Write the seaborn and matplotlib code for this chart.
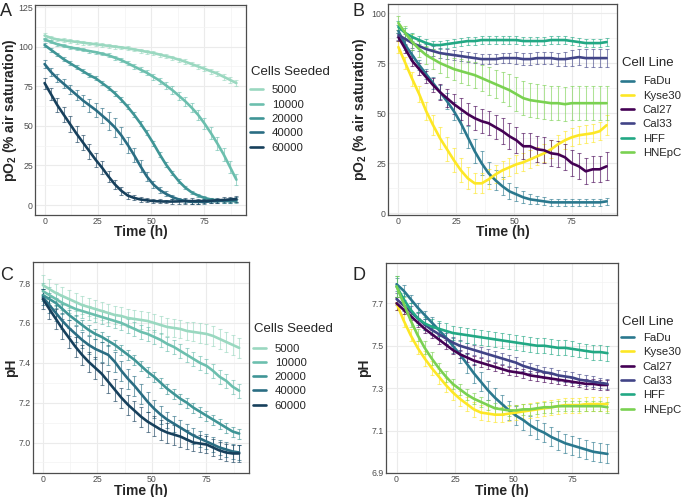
import matplotlib
matplotlib.use('Agg')
import pandas as pd
from matplotlib import pyplot as plt
from matplotlib.lines import Line2D
from matplotlib.ticker import FixedLocator
import seaborn as sns

hours = [0, 3, 6, 9, 12, 15, 18, 21, 24, 27, 30, 33, 36, 39, 42, 45,
         48, 51, 54, 57, 60, 63, 66, 69, 72, 75, 78, 81, 84, 87, 90]

seeded = ['5000', '10000', '20000', '40000', '60000']
seeded_colors = ['#9ad8c0', '#6cbfae', '#3f9596', '#2a6d83', '#17405c']

cell_lines = ['FaDu', 'Kyse30', 'Cal27', 'Cal33', 'HFF', 'HNEpC']
line_colors = ['#2A788E', '#FDE725', '#440154', '#414487', '#22A884', '#7AD151']

# panel A - pO2 by seeding density
po2_seeded_mean = {
    '5000': [107, 105.5, 104.5, 104, 103.5, 103, 102.5, 102, 101.5, 101, 100.5, 100, 99.5, 99, 98.2, 97.5,
             96.7, 96, 95, 94, 93, 91.8, 90.5, 89, 87.5, 86, 84.5, 83, 81, 79, 77],
    '10000': [104.5, 103, 101.5, 100.5, 99.5, 98.8, 98, 97.2, 96.5, 95.5, 94.5, 93, 91.5, 89.5, 87.5, 85.5,
              83.5, 81, 78.5, 75.5, 72.5, 69, 65.5, 61.5, 57, 51.5, 45.5, 39, 32, 24, 16],
    '20000': [101, 98, 95, 92, 89.5, 87, 84.5, 82, 80, 77, 74, 70.5, 66.5, 62, 57, 51.5,
              45.5, 39, 32, 25.5, 20, 15, 11, 8, 6, 4.5, 3.5, 3, 2.5, 2.5, 2.5],
    '40000': [89, 84, 80, 76.5, 73, 69.5, 66, 63, 60, 56.5, 53, 49, 44, 38, 31.5, 24.5,
              18, 13, 9.5, 7, 5, 3.5, 2.5, 2, 2, 2, 2.3, 2.5, 2.8, 3, 3.2],
    '60000': [77, 70, 63, 57, 51, 45, 39.5, 34, 28.5, 23.5, 18, 13, 9, 6, 4.5, 3.5,
              3, 2.5, 2.3, 2.2, 2.2, 2.3, 2.5, 2.5, 2.5, 2.5, 2.7, 3, 3.2, 3.5, 3.8],
}
po2_seeded_sd = {
    '5000': [1.5, 1.2, 1.2, 1.2, 1.2, 1.2, 1.2, 1.2, 1.2, 1.2, 1.2, 1.2, 1.2, 1.2, 1.2, 1.2,
             1.2, 1.2, 1.3, 1.3, 1.3, 1.3, 1.4, 1.4, 1.5, 1.5, 1.6, 1.7, 1.8, 1.9, 2.0],
    '10000': [1.0, 1.0, 1.0, 1.0, 1.0, 1.0, 1.0, 1.0, 1.0, 1.0, 1.2, 1.2, 1.2, 1.3, 1.4, 1.5,
              1.6, 1.8, 2.0, 2.2, 2.4, 2.6, 2.8, 3.0, 3.3, 3.5, 3.8, 4.0, 4.0, 3.8, 3.5],
    '20000': [1.5, 1.2, 1.2, 1.2, 1.2, 1.2, 1.2, 1.2, 1.2, 1.3, 1.3, 1.4, 1.5, 1.5, 1.6, 1.6,
              1.6, 1.6, 1.5, 1.4, 1.3, 1.2, 1.1, 1.0, 1.0, 1.0, 1.0, 1.0, 1.0, 1.0, 1.0],
    '40000': [2.5, 2.5, 2.5, 2.8, 3.0, 3.2, 3.5, 4.0, 4.5, 5.0, 5.5, 5.8, 5.5, 5.0, 4.5, 3.8,
              3.0, 2.4, 2.0, 1.6, 1.4, 1.2, 1.2, 1.2, 1.2, 1.2, 1.2, 1.2, 1.3, 1.5, 1.6],
    '60000': [3.5, 4.0, 4.5, 4.8, 5.0, 5.0, 5.0, 4.8, 4.5, 4.0, 3.5, 3.0, 2.5, 2.0, 1.6, 1.4,
              1.2, 1.2, 1.2, 1.2, 1.4, 1.6, 1.8, 1.8, 1.6, 1.5, 1.5, 1.5, 1.6, 1.8, 2.0],
}

# panel B - pO2 by cell line
po2_line_mean = {
    'FaDu': [91, 84, 79, 74, 69.5, 65, 60.5, 56, 51, 45, 38, 31, 25, 20, 16.5, 13.5,
             11, 9.5, 8, 7, 6.5, 6, 5.5, 5.5, 5.5, 5.5, 5.5, 5.5, 5.5, 5.5, 6],
    'Kyse30': [83, 75, 67, 59.5, 51, 44, 37.5, 32, 26.5, 21.5, 17.5, 15, 15, 17, 19.5, 21.5,
               23, 24.5, 25.5, 27, 28.5, 30, 32, 34.5, 36.5, 38, 39, 39.5, 40, 41, 44],
    'Cal27': [88, 82, 76, 72, 68, 64, 60.5, 57.5, 54.5, 52, 49.5, 47.5, 46, 45, 43, 41,
              38.5, 36.5, 33.5, 33.5, 32, 31.5, 30, 29.5, 28, 25, 23.5, 21, 22, 22, 23.5],
    'Cal33': [89, 87, 85, 83.5, 82, 81, 80, 79.5, 79, 78.5, 78, 77.5, 77, 77, 77, 77.5,
              77.5, 77.5, 77, 77, 77.5, 77.5, 77.5, 77, 77, 77.5, 78, 77.5, 77.5, 77.5, 77.5],
    'HFF': [93, 90, 88, 86.5, 85, 84, 84, 84.5, 85, 85.5, 86, 86, 86.5, 86.5, 86.5, 86.5,
            86.5, 86.5, 86, 86, 86, 86, 86.5, 86.5, 86.5, 86, 85.5, 85, 85, 85, 85.5],
    'HNEpC': [95, 90, 85.5, 82, 79, 77, 75, 73.5, 72, 71, 70, 69, 67.5, 66, 64.5, 63,
              61.5, 59.5, 57.5, 56.5, 56, 55.5, 55, 55, 54.5, 55, 55, 55, 55, 55, 55],
}
po2_line_sd = {
    'FaDu': [3, 2.5, 2.5, 2.5, 2.5, 3, 3.5, 4, 4.5, 5, 5.5, 6, 6, 5.5, 5, 4.5,
             4, 3.5, 3, 2.5, 2, 2, 1.8, 1.8, 1.8, 1.8, 1.8, 1.8, 1.8, 1.8, 1.8],
    'Kyse30': [3, 3, 3.5, 4, 4.5, 5, 5.5, 6, 6, 6, 5.5, 5, 5, 5, 4.5, 4.5,
               4.5, 4.5, 4.5, 4.5, 4.5, 4.5, 4.5, 4.5, 4.5, 4.5, 4.5, 4.5, 4.5, 4.5, 5],
    'Cal27': [2, 2, 2.5, 3, 3, 3.5, 4, 4.5, 5, 5.5, 5.5, 6, 6, 6, 6, 6.5,
              6.5, 6.5, 6.5, 6.5, 6.5, 6.5, 6.5, 6.5, 6.5, 6.5, 6.5, 6.5, 6.5, 6.5, 7],
    'Cal33': [2.5, 2.5, 2.5, 2.5, 2.5, 2.5, 2.5, 2.5, 2.5, 2.5, 2.5, 2.5, 2.5, 2.5, 2.5, 2.5,
              2.5, 2.8, 3, 3, 3, 3, 3, 3.2, 3.5, 3.8, 4, 4.5, 4.5, 4.5, 4.5],
    'HFF': [3, 2.5, 2, 2, 2, 2, 2, 2, 2, 2, 2, 2, 2, 2, 2, 2,
            2, 2, 2, 2, 2, 2, 2, 2, 2, 2, 2, 2, 2, 2, 2],
    'HNEpC': [3.5, 3.5, 4, 4, 4.5, 5, 5, 5.5, 5.5, 6, 6, 6.5, 6.5, 7, 7, 7.5,
              8, 8.5, 8.5, 8.5, 8.5, 8.5, 8.5, 8.5, 8.5, 8.5, 8.5, 8.5, 8.5, 8.5, 8.5],
}

# panel C - pH by seeding density
ph_seeded_mean = {
    '5000': [7.79, 7.77, 7.75, 7.735, 7.72, 7.705, 7.69, 7.68, 7.67, 7.66, 7.65, 7.64, 7.635, 7.625, 7.62, 7.615,
             7.61, 7.6, 7.59, 7.58, 7.575, 7.57, 7.56, 7.555, 7.55, 7.545, 7.535, 7.52, 7.505, 7.49, 7.475],
    '10000': [7.76, 7.74, 7.72, 7.7, 7.685, 7.67, 7.66, 7.65, 7.64, 7.63, 7.62, 7.61, 7.6, 7.585, 7.57, 7.555,
              7.545, 7.53, 7.515, 7.495, 7.48, 7.46, 7.44, 7.42, 7.4, 7.385, 7.36, 7.33, 7.31, 7.28, 7.26],
    '20000': [7.74, 7.72, 7.7, 7.67, 7.64, 7.615, 7.59, 7.565, 7.545, 7.53, 7.51, 7.49, 7.465, 7.44, 7.415, 7.385,
              7.355, 7.33, 7.3, 7.27, 7.245, 7.22, 7.2, 7.175, 7.155, 7.135, 7.115, 7.095, 7.075, 7.055, 7.045],
    '40000': [7.73, 7.69, 7.65, 7.61, 7.575, 7.545, 7.515, 7.49, 7.47, 7.455, 7.44, 7.405, 7.36, 7.32, 7.285, 7.245,
              7.205, 7.17, 7.14, 7.115, 7.095, 7.075, 7.055, 7.035, 7.02, 7.005, 6.99, 6.975, 6.965, 6.955, 6.95],
    '60000': [7.72, 7.67, 7.62, 7.57, 7.525, 7.48, 7.44, 7.405, 7.375, 7.345, 7.305, 7.265, 7.225, 7.19, 7.16, 7.13,
              7.105, 7.085, 7.065, 7.05, 7.04, 7.03, 7.015, 7.0, 6.995, 6.99, 6.975, 6.96, 6.95, 6.945, 6.945],
}
ph_seeded_sd = {
    '5000': [0.05, 0.05, 0.045, 0.045, 0.045, 0.045, 0.045, 0.045, 0.045, 0.045, 0.045, 0.045, 0.045, 0.045, 0.045, 0.045,
             0.045, 0.045, 0.045, 0.045, 0.045, 0.045, 0.045, 0.048, 0.05, 0.05, 0.05, 0.05, 0.05, 0.05, 0.05],
    '10000': [0.04, 0.04, 0.035, 0.035, 0.035, 0.035, 0.035, 0.035, 0.035, 0.035, 0.035, 0.035, 0.035, 0.035, 0.035, 0.035,
              0.035, 0.035, 0.035, 0.035, 0.035, 0.035, 0.035, 0.035, 0.035, 0.035, 0.035, 0.035, 0.035, 0.035, 0.035],
    '20000': [0.03, 0.03, 0.025, 0.025, 0.025, 0.025, 0.025, 0.025, 0.025, 0.025, 0.025, 0.025, 0.025, 0.025, 0.025, 0.025,
              0.025, 0.025, 0.025, 0.025, 0.025, 0.025, 0.025, 0.025, 0.025, 0.025, 0.025, 0.025, 0.025, 0.025, 0.025],
    '40000': [0.04, 0.04, 0.04, 0.04, 0.04, 0.04, 0.04, 0.045, 0.05, 0.05, 0.05, 0.05, 0.05, 0.05, 0.05, 0.05,
              0.05, 0.045, 0.045, 0.04, 0.04, 0.04, 0.04, 0.04, 0.04, 0.04, 0.04, 0.04, 0.04, 0.04, 0.04],
    '60000': [0.05, 0.05, 0.05, 0.05, 0.05, 0.05, 0.05, 0.05, 0.055, 0.055, 0.055, 0.055, 0.05, 0.05, 0.05, 0.05,
              0.05, 0.05, 0.05, 0.05, 0.05, 0.05, 0.05, 0.045, 0.045, 0.045, 0.045, 0.045, 0.045, 0.045, 0.045],
}

# panel D - pH by cell line
ph_line_mean = {
    'FaDu': [7.79, 7.76, 7.72, 7.68, 7.645, 7.61, 7.575, 7.54, 7.5, 7.46, 7.415, 7.37, 7.33, 7.29, 7.255, 7.225,
             7.195, 7.17, 7.15, 7.125, 7.105, 7.09, 7.07, 7.055, 7.04, 7.03, 7.02, 7.01, 7.0, 6.995, 6.99],
    'Kyse30': [7.7, 7.62, 7.55, 7.49, 7.44, 7.395, 7.355, 7.315, 7.28, 7.25, 7.225, 7.2, 7.185, 7.18, 7.175, 7.175,
               7.18, 7.185, 7.19, 7.195, 7.2, 7.205, 7.21, 7.215, 7.22, 7.22, 7.22, 7.225, 7.225, 7.225, 7.225],
    'Cal27': [7.7, 7.67, 7.64, 7.61, 7.58, 7.555, 7.53, 7.505, 7.48, 7.46, 7.445, 7.43, 7.42, 7.41, 7.4, 7.39,
              7.38, 7.375, 7.37, 7.36, 7.355, 7.35, 7.345, 7.34, 7.335, 7.33, 7.325, 7.32, 7.32, 7.315, 7.315],
    'Cal33': [7.72, 7.69, 7.66, 7.63, 7.6, 7.575, 7.555, 7.535, 7.515, 7.5, 7.49, 7.48, 7.47, 7.46, 7.45, 7.44,
              7.43, 7.42, 7.405, 7.395, 7.385, 7.375, 7.37, 7.36, 7.355, 7.35, 7.34, 7.335, 7.33, 7.325, 7.32],
    'HFF': [7.78, 7.72, 7.67, 7.63, 7.605, 7.59, 7.58, 7.57, 7.56, 7.555, 7.55, 7.545, 7.54, 7.535, 7.53, 7.525,
            7.52, 7.515, 7.51, 7.505, 7.5, 7.5, 7.495, 7.49, 7.49, 7.485, 7.48, 7.475, 7.47, 7.47, 7.465],
    'HNEpC': [7.78, 7.7, 7.62, 7.55, 7.49, 7.44, 7.395, 7.355, 7.32, 7.295, 7.27, 7.25, 7.235, 7.22, 7.205, 7.2,
              7.195, 7.195, 7.2, 7.2, 7.205, 7.21, 7.21, 7.215, 7.215, 7.215, 7.215, 7.215, 7.215, 7.215, 7.21],
}
ph_line_sd = {
    'FaDu': [0.03, 0.025, 0.02, 0.02, 0.02, 0.025, 0.03, 0.03, 0.035, 0.04, 0.045, 0.045, 0.045, 0.045, 0.045, 0.045,
             0.045, 0.045, 0.045, 0.045, 0.045, 0.045, 0.045, 0.045, 0.045, 0.045, 0.045, 0.045, 0.045, 0.045, 0.045],
    'Kyse30': [0.03, 0.03, 0.03, 0.03, 0.035, 0.035, 0.035, 0.035, 0.035, 0.035, 0.035, 0.035, 0.035, 0.035, 0.035, 0.035,
               0.035, 0.035, 0.035, 0.035, 0.035, 0.035, 0.035, 0.035, 0.035, 0.035, 0.035, 0.035, 0.035, 0.035, 0.035],
    'Cal27': [0.03, 0.02, 0.02, 0.02, 0.02, 0.02, 0.02, 0.02, 0.02, 0.02, 0.02, 0.02, 0.02, 0.02, 0.02, 0.02,
              0.02, 0.02, 0.02, 0.02, 0.02, 0.02, 0.02, 0.02, 0.02, 0.02, 0.02, 0.025, 0.025, 0.025, 0.025],
    'Cal33': [0.03, 0.025, 0.025, 0.025, 0.025, 0.025, 0.025, 0.025, 0.025, 0.025, 0.025, 0.025, 0.025, 0.025, 0.025, 0.025,
              0.025, 0.025, 0.025, 0.025, 0.025, 0.025, 0.025, 0.025, 0.025, 0.025, 0.025, 0.025, 0.025, 0.025, 0.025],
    'HFF': [0.05, 0.03, 0.03, 0.03, 0.03, 0.035, 0.035, 0.035, 0.035, 0.035, 0.035, 0.035, 0.035, 0.035, 0.035, 0.035,
            0.035, 0.035, 0.035, 0.035, 0.035, 0.035, 0.035, 0.035, 0.035, 0.035, 0.035, 0.035, 0.035, 0.035, 0.035],
    'HNEpC': [0.05, 0.03, 0.03, 0.03, 0.03, 0.03, 0.025, 0.025, 0.025, 0.025, 0.025, 0.025, 0.025, 0.025, 0.025, 0.025,
              0.025, 0.025, 0.025, 0.025, 0.025, 0.025, 0.025, 0.025, 0.025, 0.025, 0.025, 0.025, 0.025, 0.025, 0.025],
}


def to_long(means, sds):
    rows = []
    for grp, vals in means.items():
        for t, v, s in zip(hours, vals, sds[grp]):
            rows.append({'time': t, 'value': v, 'sd': s, 'group': grp})
    return pd.DataFrame(rows)


sns.set_theme(style='white')
plt.rcParams['font.family'] = ['Liberation Sans', 'DejaVu Sans']
plt.rcParams['mathtext.fontset'] = 'custom'
plt.rcParams['mathtext.rm'] = 'Liberation Sans'
plt.rcParams['mathtext.bf'] = 'Liberation Sans:bold'

W, H = 685, 497
fig = plt.figure(figsize=(W / 100, H / 100), dpi=100)


def px_axes(l, t, r, b):
    return fig.add_axes([l / W, 1 - b / H, (r - l) / W, (b - t) / H])


def draw(ax, df, order, colors, ylim, ymajor, yminor, ylabel, yfmt, ylab_x, xlab_y):
    for g, c in zip(order, colors):
        d = df[df['group'] == g]
        ax.errorbar(d['time'], d['value'], yerr=d['sd'], fmt='none', ecolor=c,
                    elinewidth=0.75, capsize=1.7, capthick=0.75, alpha=0.6, zorder=2)
    sns.lineplot(data=df, x='time', y='value', hue='group', hue_order=order,
                 palette=colors, linewidth=1.9, legend=False, errorbar=None, ax=ax, zorder=3)
    ax.set_xlim(-4.5, 94.5)
    ax.set_ylim(*ylim)
    ax.xaxis.set_major_locator(FixedLocator([0, 25, 50, 75]))
    ax.xaxis.set_minor_locator(FixedLocator([12.5, 37.5, 62.5, 87.5]))
    ax.yaxis.set_major_locator(FixedLocator(ymajor))
    ax.yaxis.set_minor_locator(FixedLocator(yminor))
    ax.set_yticklabels([yfmt.format(v) for v in ymajor])
    ax.grid(which='major', color='#EBEBEB', linewidth=0.8)
    ax.grid(which='minor', color='#F3F3F3', linewidth=0.5)
    ax.set_axisbelow(True)
    for sp in ax.spines.values():
        sp.set_color('#4D4D4D')
        sp.set_linewidth(0.9)
    ax.tick_params(which='major', length=1.2, width=0.6, color='#4D4D4D',
                   labelsize=6.3, labelcolor='#4D4D4D', pad=0.3)
    ax.tick_params(which='minor', length=0)
    ax.set_xlabel('Time (h)', fontsize=10, fontweight='bold')
    ax.set_ylabel(ylabel, fontsize=10, fontweight='bold')
    ax.xaxis.set_label_coords(0.5, xlab_y)
    ax.xaxis.label.set_va('center')
    ax.yaxis.set_label_coords(ylab_x, 0.5)
    ax.yaxis.label.set_va('center')


def add_legend(title, order, colors, x, title_y, first_y):
    fig.text((x + 1) / W, 1 - title_y / H, title, fontsize=9.5, va='center', ha='left')
    handles = [Line2D([0], [0], color=c, linewidth=1.9) for c in colors]
    fig.legend(handles, order, loc='upper left',
               bbox_to_anchor=(x / W, 1 - (first_y - 5.5) / H), frameon=False,
               fontsize=8.2, handlelength=1.1, handletextpad=0.8,
               labelspacing=0.38, borderpad=0, borderaxespad=0)


po2_label = r'pO$_\mathbf{2}$ (% air saturation)'

axA = px_axes(35, 5, 246, 215)
draw(axA, to_long(po2_seeded_mean, po2_seeded_sd), seeded, seeded_colors,
     (-6.3, 126.3), [0, 25, 50, 75, 100, 125], [12.5, 37.5, 62.5, 87.5, 112.5],
     po2_label, '{:.0f}', -0.118, -0.082)
add_legend('Cells Seeded', seeded, seeded_colors, 250, 72, 90.7)

axB = px_axes(388, 4, 617, 215)
draw(axB, to_long(po2_line_mean, po2_line_sd), cell_lines, line_colors,
     (-0.8, 104.5), [0, 25, 50, 75, 100], [12.5, 37.5, 62.5, 87.5],
     po2_label, '{:.0f}', -0.122, -0.082)
add_legend('Cell Line', cell_lines, line_colors, 621, 63, 82)

axC = px_axes(33, 262, 249, 473)
draw(axC, to_long(ph_seeded_mean, ph_seeded_sd), seeded, seeded_colors,
     (6.847, 7.906), [7.0, 7.2, 7.4, 7.6, 7.8], [6.9, 7.1, 7.3, 7.5, 7.7],
     'pH', '{:.1f}', -0.103, -0.085)
add_legend('Cells Seeded', seeded, seeded_colors, 253, 329.5, 349)

axD = px_axes(386, 263, 618, 473)
draw(axD, to_long(ph_line_mean, ph_line_sd), cell_lines, line_colors,
     (6.9, 7.89), [6.9, 7.1, 7.3, 7.5, 7.7], [7.0, 7.2, 7.4, 7.6, 7.8],
     'pH', '{:.1f}', -0.096, -0.085)
add_legend('Cell Line', cell_lines, line_colors, 621, 322, 338.5)

for letter, x, y in [('A', 0, 16.5), ('B', 352, 16.5), ('C', 0, 280), ('D', 352, 280)]:
    fig.text(x / W, 1 - y / H, letter, fontsize=13, va='baseline', ha='left')

fig.savefig('out.png', dpi=100)
